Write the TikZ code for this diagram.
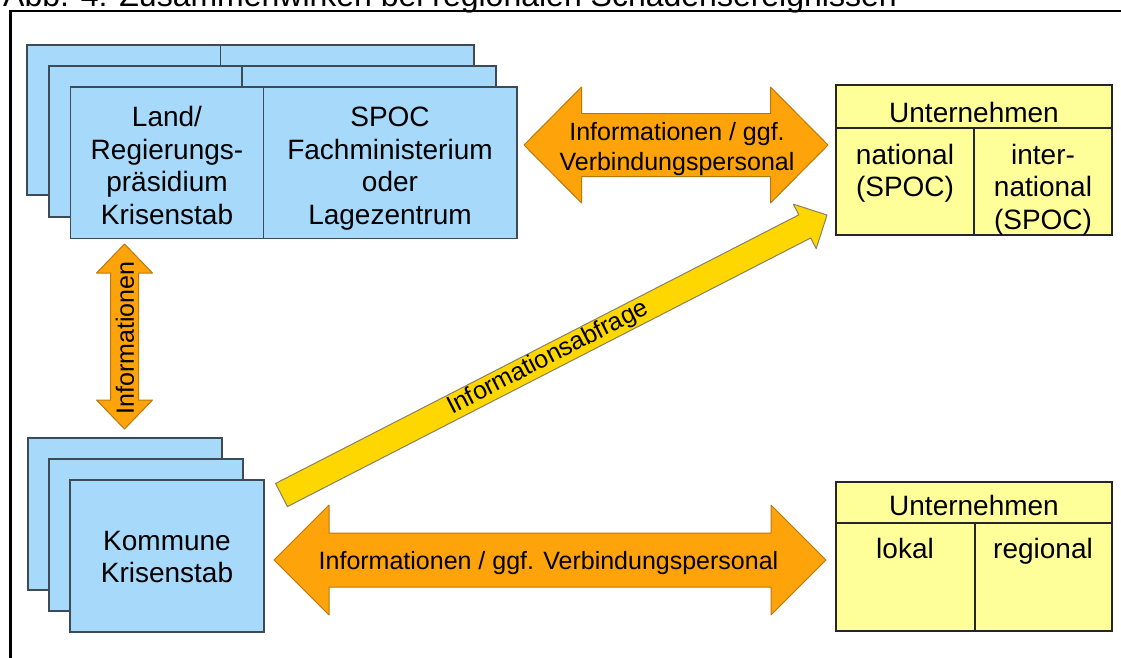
\documentclass[tikz,border=0pt]{standalone}
\usepackage{fontspec}
\setmainfont{Liberation Sans}
\usetikzlibrary{calc}
\definecolor{boxblue}{HTML}{A6D9FA}
\definecolor{boxblueline}{HTML}{3E4A56}
\definecolor{boxyellow}{HTML}{FFFF99}
\definecolor{arroworange}{HTML}{FFA30A}
\definecolor{arroworangeline}{HTML}{B8780C}
\definecolor{arrowyellow}{HTML}{FFD700}
\definecolor{arrowyellowline}{HTML}{8A8060}
\begin{document}
\begin{tikzpicture}[x=1pt,y=-1pt,
  bluebox/.style={fill=boxblue, draw=boxblueline, line width=1.1pt},
  yelbox/.style={fill=boxyellow, draw=black!85, line width=1.1pt},
  orangearrow/.style={fill=arroworange, draw=arroworangeline, line width=1pt, line join=round},
  yelarrow/.style={fill=arrowyellow, draw=arrowyellowline, line width=1pt, line join=round},
  boxtext/.style={font=\fontsize{28}{32.5}\selectfont, align=center, anchor=north, inner sep=0pt},
  arrowtext/.style={font=\fontsize{25}{29.3}\selectfont, align=center, inner sep=0pt},
  frameline/.style={line width=2.2pt, draw=black}
]
\useasboundingbox (0,0) rectangle (1121,657);
\clip (0,0) rectangle (1121,657);

% frame and (cut-off) title
\draw[frameline] (10.5,680) -- (10.5,11) -- (1140,11);
\node[font=\fontsize{32}{38}\selectfont, anchor=base east, inner sep=0pt] (title) at (897,6)
  {Abb. 4: Zusammenwirken bei regionalen Schadensereignissen};

% upper stack of blue boxes
\filldraw[bluebox] (27,45) rectangle (220.5,195);
\filldraw[bluebox] (220.5,45) rectangle (474,195);
\filldraw[bluebox] (49,66) rectangle (242,217);
\filldraw[bluebox] (242,66) rectangle (496,217);
\filldraw[bluebox] (70.5,87) rectangle (263.5,238.5);
\filldraw[bluebox] (263.5,87) rectangle (517,238.5);
\node[boxtext] (landtext) at (167,104) {\strut Land/\\Regierungs-\\präsidium\\Krisenstab};
\node[boxtext] (spoctext) at (390,104) {\strut SPOC\\Fachministerium\\oder\\Lagezentrum};

% lower stack of blue boxes
\filldraw[bluebox] (28,438) rectangle (222,590);
\filldraw[bluebox] (49,459) rectangle (243,611);
\filldraw[bluebox] (70,480) rectangle (264,632);
\node[boxtext] (kommunetext) at (167,527.3) {\strut Kommune\\Krisenstab};

% yellow company boxes (top)
\filldraw[yelbox] (836,85) rectangle (1112,128);
\filldraw[yelbox] (836,128) rectangle (974,235);
\filldraw[yelbox] (974,128) rectangle (1112,235);
\node[boxtext] (unt1) at (974,99.25) {\strut Unternehmen};
\node[boxtext] (nat) at (905,141.25) {\strut national\\(SPOC)};
\node[boxtext] (intl) at (1043,141.25) {\strut inter-\\national\\(SPOC)};

% yellow company boxes (bottom)
\filldraw[yelbox] (836,482) rectangle (1112,523);
\filldraw[yelbox] (836,523) rectangle (975,631);
\filldraw[yelbox] (975,523) rectangle (1112,631);
\node[boxtext] (unt2) at (974,492.25) {\strut Unternehmen};
\node[boxtext] (lokal) at (905,535.25) {\strut lokal};
\node[boxtext] (regional) at (1043,535.25) {\strut regional};

% orange double arrow top
\filldraw[orangearrow] (524,145) -- (581.5,87) -- (581.5,113.5) -- (770.5,113.5) -- (770.5,87)
  -- (828,145) -- (770.5,203) -- (770.5,176.5) -- (581.5,176.5) -- (581.5,203) -- cycle;
\node[arrowtext, anchor=north] (toptext) at (677,120.2) {\strut Informationen / ggf.\\Verbindungspersonal};

% orange double arrow bottom
\filldraw[orangearrow] (274,560) -- (329,505) -- (329,533) -- (771,533) -- (771,505)
  -- (826,560) -- (771,615) -- (771,587) -- (329,587) -- (329,615) -- cycle;
\node[arrowtext, anchor=base] (bottomtext) at (548.5,569) {Informationen / ggf. Verbindungspersonal};

% orange vertical double arrow
\filldraw[orangearrow] (124.5,244) -- (152.5,273) -- (138.5,273) -- (138.5,400) -- (152.5,400)
  -- (124.5,429) -- (96.5,400) -- (110.5,400) -- (110.5,273) -- (96.5,273) -- cycle;
\node[arrowtext, rotate=90] (vtext) at (125,338) {Informationen};

% yellow diagonal arrow
\coordinate (ys) at (281.5,495);
\coordinate (yt) at (827,215);
\coordinate (yh) at ($(yt)!25pt!(ys)$);
\filldraw[yelarrow] ($(ys)!13pt!90:(yt)$) -- ($(yh)!13pt!-90:(ys)$) -- ($(yh)!25pt!-90:(ys)$)
  -- (yt) -- ($(yh)!25pt!90:(ys)$) -- ($(yh)!13pt!90:(ys)$) -- ($(ys)!13pt!-90:(yt)$) -- cycle;
\node[arrowtext, rotate=27.17] (dtext) at ($(ys)!0.489!(yt)$) {Informationsabfrage};
\end{tikzpicture}
\end{document}
